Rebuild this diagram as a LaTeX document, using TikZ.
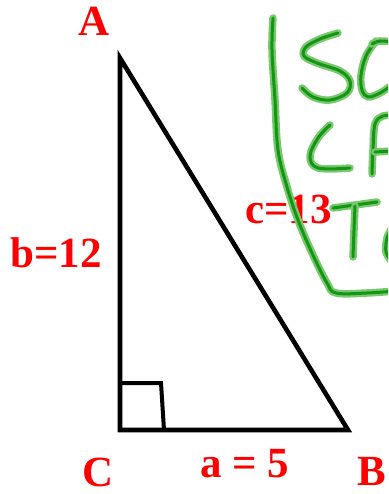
\documentclass[tikz,border=0pt]{standalone}
\usepackage{fontspec}
\setmainfont{Liberation Serif}
\definecolor{lblred}{RGB}{255,0,0}
\definecolor{gcore}{RGB}{20,150,20}
\definecolor{ghalo}{RGB}{120,200,110}
\begin{document}
\begin{tikzpicture}[x=1pt,y=-1pt,
  lbl/.style={text=lblred,font=\fontsize{43}{43}\selectfont\bfseries,inner sep=0pt,anchor=base west},
  edge/.style={draw=black,line width=4.6pt,line join=miter},
  gstroke/.style={draw=gcore,line width=3pt,line cap=round,line join=round,
     preaction={draw=ghalo,line width=7.5pt,line cap=round,line join=round}}]
\useasboundingbox (0,0) rectangle (388,494);
\clip (0,0) rectangle (388,494);
\fill[white] (0,0) rectangle (388,494);
\coordinate (A) at (120,58);
\coordinate (C) at (120,430);
\coordinate (B) at (348,430);
\draw[edge] (A) -- (C) -- (B) -- cycle;
\coordinate (r1) at (120,383);
\coordinate (r2) at (161,383);
\coordinate (r3) at (164,430);
\draw[draw=black,line width=4pt] (r1) -- (r2) -- (r3);
\node[lbl] (lA) at (78,36) {A};
\node[lbl] (lb) at (10,267) {b=12};
\node[lbl] (lc) at (245,223) {c=13};
\node[lbl] (lC) at (82,486) {C};
\node[lbl] (la) at (200,477) {a = 5};
\node[lbl] (lB) at (357,485) {B};
% green handwriting
\draw[gstroke] plot[smooth,tension=0.6] coordinates {(273,18) (272,50) (275,100) (278,150) (287,187) (298,220) (312,253) (327,283) (336,293) (367,293) (395,291)};
\draw[gstroke] plot[smooth,tension=0.6] coordinates {(338,33) (320,39) (306,47) (304,56) (317,63) (340,71) (350,81) (347,93) (330,100) (313,97) (302,88)};
\draw[gstroke] plot[smooth,tension=0.6] coordinates {(376,41) (366,56) (361,75) (362,90) (368,97) (380,93) (392,85)};
\draw[gstroke] plot[smooth,tension=0.6] coordinates {(372,44) (380,41) (392,42)};
\draw[gstroke] plot[smooth,tension=0.6] coordinates {(330,125) (318,138) (310,156) (318,168) (350,168)};
\draw[gstroke] plot[smooth,tension=0.6] coordinates {(372,174) (373,150) (375,124) (383,116) (394,116)};
\draw[gstroke] (375,152) -- (392,151);
\draw[gstroke] (333,208) -- (355,205) -- (377,202);
\draw[gstroke] plot[smooth,tension=0.6] coordinates {(355,206) (354,230) (353,257)};
\draw[gstroke] plot[smooth,tension=0.6] coordinates {(392,228) (387,238) (386,252) (392,262)};
\end{tikzpicture}
\end{document}
